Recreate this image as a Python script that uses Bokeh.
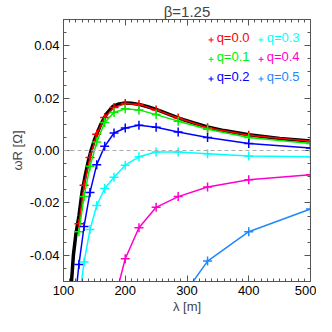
from bokeh.plotting import figure
from bokeh.models import (SingleIntervalTicker, LinearAxis, Span, Label,
                          NumeralTickFormatter, Range1d)
from bokeh.embed import file_html
from bokeh.resources import INLINE

# ---- data ----
lam_theory = [113, 116, 120, 125, 130, 135, 140, 145, 150, 160, 170, 180, 190, 200,
              210, 222, 235, 250, 270, 290, 310, 333, 360, 400, 450, 500]
om_theory = [-0.050, -0.040, -0.032, -0.025, -0.0160, -0.0098, -0.0042, 0.0003, 0.0040,
             0.0098, 0.0141, 0.0168, 0.0178, 0.0181, 0.0180, 0.0176, 0.0168, 0.0157,
             0.0139, 0.0121, 0.0106, 0.0090, 0.0076, 0.0060, 0.0046, 0.0036]

lam_q00 = [125, 133.3, 142.9, 153.8, 166.7, 181.8, 200, 222.2, 250, 285.7, 333.3, 400, 500]
om_q00 = [-0.028, -0.0133, -0.0027, 0.0062, 0.0126, 0.0164, 0.0179, 0.0176, 0.0155,
          0.0124, 0.0087, 0.0058, 0.0035]

lam_q01 = [125, 133.3, 142.9, 153.8, 166.7, 181.8, 200, 222.2, 250, 285.7, 333.3, 400, 500]
om_q01 = [-0.031, -0.0176, -0.0060, 0.0032, 0.0107, 0.0145, 0.0159, 0.0155, 0.0137,
          0.0112, 0.0081, 0.0050, 0.0027]

lam_q02 = [117.6, 125, 133.3, 142.9, 153.8, 166.7, 181.8, 200, 222.2, 250, 285.7, 333.3, 400, 500]
om_q02 = [-0.060, -0.0435, -0.029, -0.016, -0.0054, 0.0016, 0.0067, 0.0086, 0.0096,
          0.0089, 0.0071, 0.0050, 0.0027, 0.0010]

lam_q03 = [125, 133.3, 142.9, 153.8, 166.7, 181.8, 200, 222.2, 250, 285.7, 333.3, 400, 500]
om_q03 = [-0.058, -0.0426, -0.0302, -0.0210, -0.0145, -0.0102, -0.0056, -0.0024, -0.0006,
          -0.0006, -0.0012, -0.0021, -0.0024]

lam_q04 = [181.8, 200, 222.2, 250, 285.7, 333.3, 400, 500]
om_q04 = [-0.058, -0.0413, -0.0295, -0.0217, -0.0176, -0.0139, -0.0112, -0.0093]

lam_q05 = [285.7, 333.3, 400, 500]
om_q05 = [-0.058, -0.0422, -0.0310, -0.0223]

series_labels = ["q=0.0", "q=0.1", "q=0.2", "q=0.3", "q=0.4", "q=0.5"]
series_colors = ["#FF0000", "#00EE00", "#0000FF", "#00FFFF", "#FF00CC", "#1E88FF"]
title_text = "β=1.25"

FONT = "Liberation Sans"

p = figure(width=316, height=316, output_backend="svg", toolbar_location=None,
           x_range=Range1d(100, 500), y_range=Range1d(-0.05, 0.05),
           min_border_left=63, min_border_right=6, min_border_top=0,
           min_border_bottom=0)
p.background_fill_color = "white"
p.border_fill_color = "white"
p.outline_line_color = None
p.grid.visible = False

p.title.text = title_text
p.title.align = "center"
p.title.text_font = FONT
p.title.text_font_size = "15px"
p.title.text_font_style = "normal"
p.title.standoff = 0
p.title.offset = 0

xt = SingleIntervalTicker(interval=100, num_minor_ticks=10)
yt = SingleIntervalTicker(interval=0.02, num_minor_ticks=4)

def style_axis(ax, ticker, show_labels):
    ax.ticker = ticker
    ax.axis_line_color = "#555555"
    ax.major_tick_line_color = "#555555"
    ax.minor_tick_line_color = "#555555"
    ax.major_tick_in = 6
    ax.major_tick_out = 0
    ax.minor_tick_in = 3
    ax.minor_tick_out = 0
    ax.major_label_text_font = FONT
    ax.major_label_text_font_size = "13px"
    ax.major_label_text_color = "black"
    ax.axis_label_text_font = FONT
    ax.axis_label_text_font_size = "13px"
    ax.axis_label_text_font_style = "normal"
    if not show_labels:
        ax.major_label_text_color = None
        ax.major_label_text_font_size = "1px"
        ax.major_label_standoff = 0

xa = p.xaxis[0]
style_axis(xa, xt, True)
xa.axis_label = "λ [m]"
xa.axis_label_standoff = 1
xa.major_label_standoff = 4

ya = p.yaxis[0]
style_axis(ya, yt, True)
ya.formatter = NumeralTickFormatter(format="0.00")
ya.major_label_standoff = 4
ya.axis_label = "ωR [Ω]"
ya.axis_label_standoff = 2

top = LinearAxis()
style_axis(top, SingleIntervalTicker(interval=100, num_minor_ticks=10), False)
p.add_layout(top, "above")
right = LinearAxis()
style_axis(right, SingleIntervalTicker(interval=0.02, num_minor_ticks=4), False)
p.add_layout(right, "right")

p.add_layout(Span(location=0, dimension="width", line_color="#AAAAAA",
                  line_dash="4 3", line_width=1))

# theory curve
p.line(lam_theory, om_theory, line_color="black", line_width=3.5)

data = [(lam_q00, om_q00), (lam_q01, om_q01), (lam_q02, om_q02),
        (lam_q03, om_q03), (lam_q04, om_q04), (lam_q05, om_q05)]
for (lx, ly), c in zip(data, series_colors):
    p.line(lx, ly, line_color=c, line_width=1.5)
    p.scatter(lx, ly, marker="cross", size=9, line_color=c, line_width=1.5)

# legend (two columns, coloured text)
leg_x_marker = [339, 339, 339, 420, 420, 420]
leg_x_text = [348, 348, 348, 429, 429, 429]
leg_y = [0.0432, 0.0358, 0.0283, 0.0432, 0.0358, 0.0283]
for i in range(6):
    p.scatter([leg_x_marker[i]], [leg_y[i] - 0.0010], marker="cross", size=5,
              line_color=series_colors[i], line_width=1)
    p.add_layout(Label(x=leg_x_text[i], y=leg_y[i], text=series_labels[i],
                       text_color=series_colors[i], text_font=FONT,
                       text_font_size="13px", text_baseline="middle",
                       text_align="left"))

open("out.html", "w").write(file_html(p, INLINE))
